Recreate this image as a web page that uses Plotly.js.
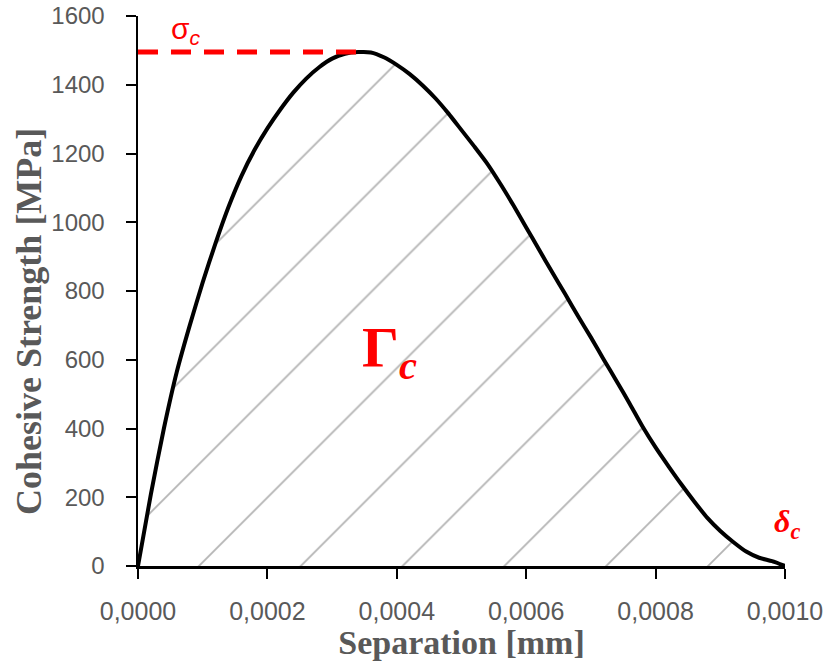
<!DOCTYPE html>
<html>
<head>
<meta charset="utf-8">
<script src="https://cdn.plot.ly/plotly-3.0.1.min.js"></script>
<style>html,body{margin:0;padding:0;background:#fff;}#chart{width:828px;height:664px;}</style>
</head>
<body>
<div id="chart"></div>
<script>
// Separation [mm]
const separation = [0, 0.00002, 0.00004, 0.00006, 0.00008, 0.0001, 0.00012, 0.00014, 0.00016, 0.00018,
  0.0002, 0.00022, 0.00024, 0.00026, 0.00028, 0.0003, 0.00032, 0.00034, 0.00036, 0.00038,
  0.0004, 0.00042, 0.00044, 0.00046, 0.00048, 0.0005, 0.00052, 0.00054, 0.00056, 0.00058,
  0.0006, 0.00062, 0.00064, 0.00066, 0.00068, 0.0007, 0.00072, 0.00074, 0.00076, 0.00078,
  0.0008, 0.00082, 0.00084, 0.00086, 0.00088, 0.0009, 0.00092, 0.00094, 0.00096, 0.00098, 0.001];
// Cohesive strength [MPa]
const strength = [0, 210, 400, 565, 700, 825, 940, 1045, 1135, 1210,
  1273, 1328, 1377, 1418, 1451, 1476, 1490, 1495, 1494, 1480,
  1458, 1431, 1398, 1360, 1316, 1268, 1220, 1170, 1112, 1050,
  985, 920, 855, 792, 727, 665, 600, 537, 472, 405,
  345, 290, 237, 187, 140, 102, 70, 42, 24, 14, 0];

const xTicks = [0, 0.0002, 0.0004, 0.0006, 0.0008, 0.001];
const yTicks = [0, 200, 400, 600, 800, 1000, 1200, 1400, 1600];

const xTitle = 'Separation [mm]';
const yTitle = 'Cohesive Strength [MPa]';
const peakLabel = 'σ<sub><i>c</i></sub>';
const areaLabel = '<b>Γ<sub><i>c</i></sub></b>';
const endLabel = '<b><i>δ<sub>c</sub></i></b>';

// peak from data
let iPeak = 0;
strength.forEach((v, i) => { if (v > strength[iPeak]) iPeak = i; });
const peakX = separation[iPeak], peakY = strength[iPeak];
const lastX = separation[separation.length - 1];

const red = '#ff0000';
const gray = '#595959';

const traces = [
  {
    x: separation, y: strength, type: 'scatter', mode: 'lines',
    line: {color: '#000', width: 4, shape: 'spline', smoothing: 0.6},
    fill: 'tozeroy', fillcolor: 'rgba(0,0,0,0)',
    fillpattern: {shape: '/', size: 72, solidity: 0.025, fgcolor: '#b4b4b4', bgcolor: 'rgba(0,0,0,0)'},
    hoverinfo: 'skip'
  },
  {
    x: [0, peakX], y: [peakY, peakY], type: 'scatter', mode: 'lines',
    line: {color: red, width: 5, dash: '20px,13px'},
    hoverinfo: 'skip'
  }
];

const layout = {
  width: 828, height: 664,
  margin: {l: 138, r: 43, t: 16, b: 98},
  paper_bgcolor: '#fff', plot_bgcolor: '#fff',
  showlegend: false,
  separators: ',.',
  xaxis: {
    range: [0, 0.001], tickvals: xTicks, tickformat: '.4f',
    showgrid: false, zeroline: false,
    showline: true, linecolor: '#000', linewidth: 2.5,
    ticks: 'outside', ticklen: 10, tickwidth: 2, tickcolor: '#000',
    ticklabelstandoff: 11,
    tickfont: {family: 'Liberation Sans, Arial, sans-serif', size: 25, color: gray},
    title: {text: '<b>' + xTitle + '</b>', standoff: 2,
      font: {family: 'Liberation Serif, Times New Roman, serif', size: 34, color: gray}}
  },
  yaxis: {
    range: [0, 1600], tickvals: yTicks,
    showgrid: false, zeroline: false,
    showline: true, linecolor: '#000', linewidth: 2.5,
    ticks: 'outside', ticklen: 10, tickwidth: 2, tickcolor: '#000',
    ticklabelstandoff: 16,
    tickfont: {family: 'Liberation Sans, Arial, sans-serif', size: 24, color: gray}
  },
  annotations: [
    {
      text: '<b>' + yTitle + '</b>', textangle: -90,
      xref: 'paper', yref: 'paper', x: -0.1685, y: 0.4455,
      xanchor: 'center', yanchor: 'middle', showarrow: false,
      font: {family: 'Liberation Serif, Times New Roman, serif', size: 36, color: gray}
    },
    {
      text: peakLabel, xref: 'x', yref: 'y', x: 0.0000742, y: peakY,
      yshift: 1, xanchor: 'center', yanchor: 'bottom', showarrow: false,
      font: {family: 'Liberation Sans, Arial, sans-serif', size: 30, color: red}
    },
    {
      text: areaLabel, xref: 'x', yref: 'y', x: 0.000389, y: 625,
      xanchor: 'center', yanchor: 'middle', showarrow: false,
      font: {family: 'Liberation Serif, Times New Roman, serif', size: 58, color: red}
    },
    {
      text: endLabel, xref: 'x', yref: 'y', x: lastX, y: 0,
      xshift: 2, yshift: 20, xanchor: 'center', yanchor: 'bottom', showarrow: false,
      font: {family: 'Liberation Serif, Times New Roman, serif', size: 32, color: red}
    }
  ]
};

Plotly.newPlot('chart', traces, layout, {displayModeBar: false, staticPlot: true});
</script>
</body>
</html>
